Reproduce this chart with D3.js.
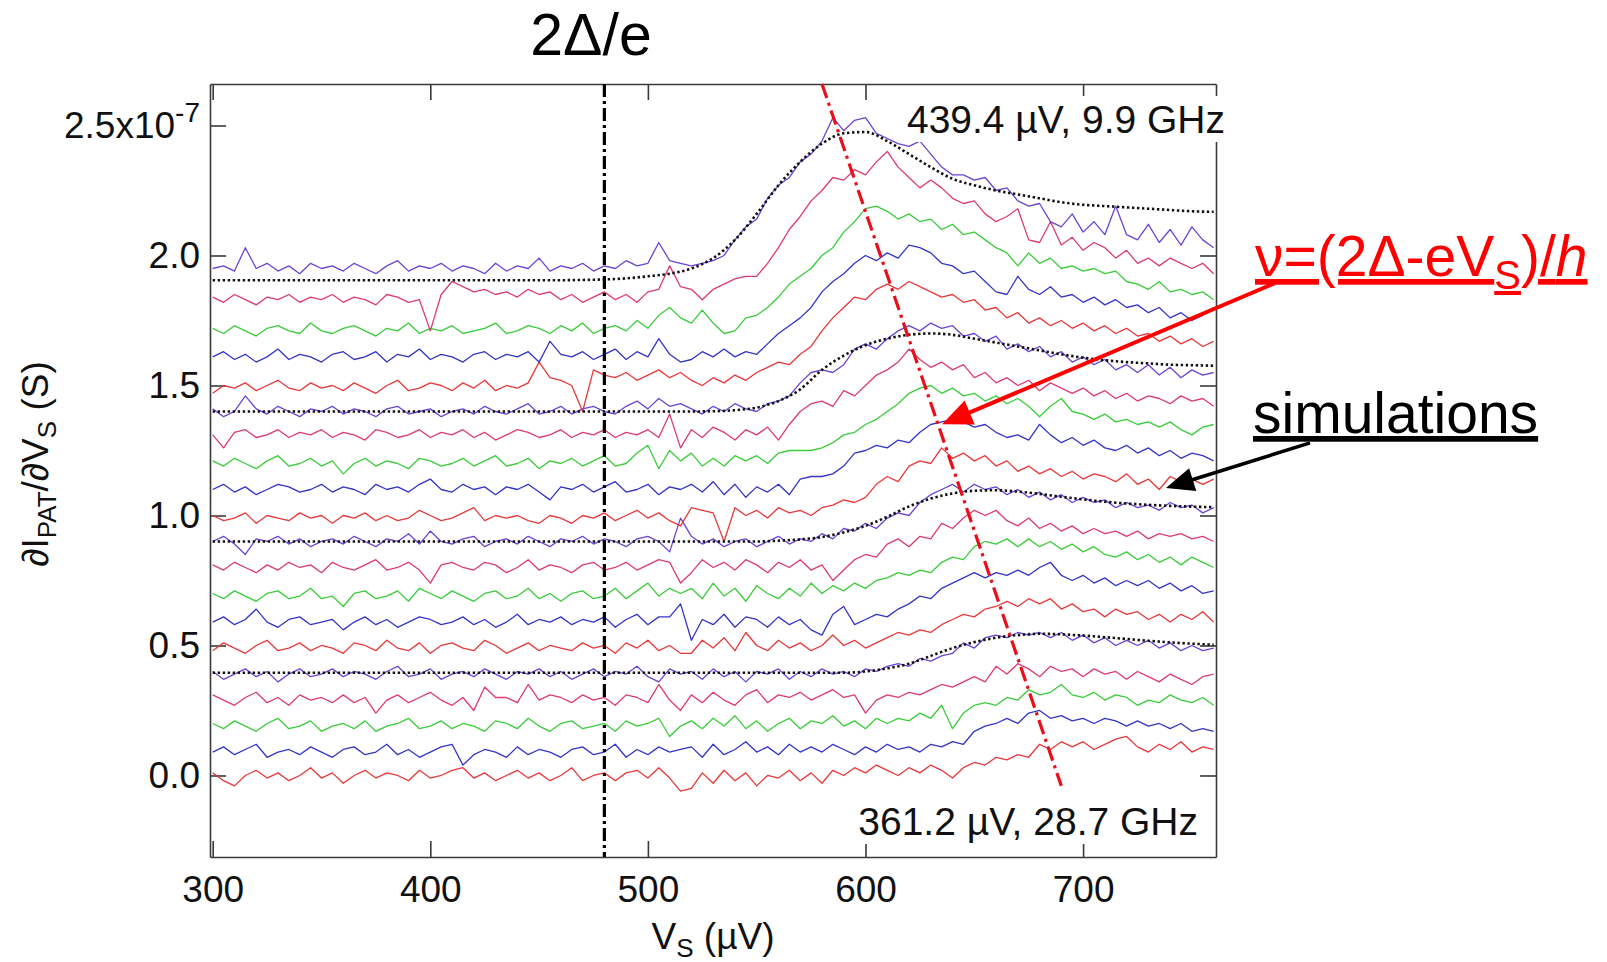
<!DOCTYPE html>
<html><head><meta charset="utf-8">
<script src="https://cdn.jsdelivr.net/npm/d3@7"></script>
<style>
body{margin:0;background:#fff;}
svg{display:block;}
text{font-family:"Liberation Sans",Arial,Helvetica,sans-serif;}
</style>
</head><body>
<svg id="c" width="1607" height="962"></svg>
<script>
// ---------------- DATA ----------------
// Source voltage grid (µV) for the measured traces
const vGrid = [300,305,310,315,320,325,330,335,340,345,350,355,360,365,370,375,380,385,390,395,400,405,410,415,420,425,430,435,440,445,450,455,460,465,470,475,480,485,490,495,500,505,510,515,520,525,530,535,540,545,550,555,560,565,570,575,580,585,590,595,600,605,610,615,620,625,630,635,640,645,650,655,660,665,670,675,680,685,690,695,700,705,710,715,720,725,730,735,740,745,750,755,760];
// Voltage grid (µV) for the simulated curves
const simGrid = [300,310,320,330,340,350,360,370,380,390,400,410,420,430,440,450,460,470,480,490,500,510,520,530,540,550,560,570,580,590,600,610,620,630,640,650,660,670,680,690,700,710,720,730,740,750,760];

// Vertical offsets of the 20 stacked traces (units of 1e-7 S), bottom to top
const traceOffsets = [0.00,0.09,0.19,0.29,0.39,0.49,0.59,0.69,0.80,0.90,0.99,1.10,1.20,1.31,1.40,1.49,1.61,1.71,1.83,1.94];

// Measured dI/dV of each trace relative to its offset (nS = 0.01 x 1e-7 S)
const trace00 = [1,-2,-4,0,2,-1,1,-2,0,3,-1, 1,-3,0,2,-1,1,0,-2,2,-1,0, 2,3,-1,1,-2,0,2,-1,1,-2,0, 3,-2,0,1,-2,1,2,-1,3,-1,-6, -5,1,-3,2,-2,1,-4,0,-1,2,-2,1,-3,2,0,3,1,4,2,0,3,1,4,2,-1,3,5,4,7,6,8,7,12,10,13,11,13,10,12,14,15,11,9,12,10,13,9,11,10];
const trace01 = [0,2,-1,1,3,-2,0,1,-1,2,0, -2,1,2,-1,0,3,-1,1,-2,0,2, 3,-5,-1,1,0,-2,2,-1,1,0,-2, 1,2,-1,0,3,-2,1,-1,2,0,1, 2,-2,3,-1,1,4,0,2,-1,3,0,2,0,3,1,-1,2,0,3,1,2,0,3,2,4,3,8,10,11,13,11,15,16,13,14,12,13,11,13,12,10,12,10,11,9,11,8,9,8];
const trace02 = [1,-1,2,0,-2,1,3,-1,0,2,-2, 0,1,-1,2,-2,0,1,3,-1,0,2, -1,1,0,-2,2,1,-1,3,0,-2,1, 2,-1,0,1,-2,2,0,1,3,-4,0, 2,-1,3,0,4,-1,2,-2,1,3,-1,2,1,4,0,2,-1,3,1,3,2,5,3,8,-1,5,8,9,8,11,10,14,12,13,16,12,11,13,10,12,11,8,10,9,12,10,9,11,8];
const trace03 = [2,0,-2,1,3,-1,1,-2,2,0,1, -1,2,-1,1,-5,0,2,-1,1,3,0, -2,1,-4,5,1,1,-1,6,0,2,1, -1,2,0,1,-2,2,1,-1,6,0,-4, 2,-1,3,0,-2,2,4,-1,2,1,3,0,2,4,1,2,-5,0,2,1,3,2,4,6,5,7,9,7,13,10,14,12,9,13,11,12,9,12,10,11,8,11,9,7,10,8,6,9,10];
const trace04 = [1,-2,0,2,-1,1,-3,0,2,-1,0, 2,-1,1,0,-2,1,3,-1,0,2,-2, 0,1,-1,2,0,-2,1,0,2,-1,1, -2,0,2,-1,1,0,3,-1,-3,2,0, 1,-2,2,-1,1,-3,1,0,2,-2,1,-1,2,0,1,-1,2,1,3,4,3,6,5,7,8,12,10,14,15,14,16,15,16,14,16,13,15,12,14,11,13,11,13,10,12,9,11,9,10];
const trace05 = [-1,2,0,-2,1,3,-1,0,2,-1,1, 0,-2,2,1,-1,3,0,-1,2,-2,1, 2,0,-1,3,1,-2,0,2,-1,1,0, -1,2,0,1,-2,2,0,3,-1,1,-2, -2,3,0,4,-1,6,1,-1,3,0,2,-1,1,5,1,3,0,2,4,6,5,7,6,9,11,13,12,15,16,18,16,19,17,19,15,17,14,15,12,15,13,14,11,13,10,13,11,14,10];
const trace06 = [0,2,-1,1,5,0,-2,1,2,-1,0, 1,-3,0,2,-1,1,-2,0,2,1,-1, 0,2,-1,1,-2,0,3,-1,1,0,2, -1,1,0,2,-2,1,3,-1,2,2,7, -7,1,-1,3,-2,2,1,-2,2,-1,1,-3,-5,3,6,-1,1,3,2,5,7,10,9,13,15,17,19,17,19,18,20,18,21,23,18,16,18,15,17,14,16,14,16,13,15,12,14,11,12];
const trace07 = [1,-1,2,0,-2,1,2,-1,0,3,-1, 0,-4,1,2,-1,0,2,-2,3,1,-1, 2,0,-2,1,2,-1,0,3,-1,1,-2, 1,2,-1,0,3,-1,2,5,0,3,1, 3,-1,5,0,3,-2,4,1,-1,3,0,5,1,4,2,5,3,6,7,9,8,10,9,13,15,14,19,21,20,22,19,22,19,21,18,20,17,19,16,15,17,14,16,13,15,12,15,13,11];
const trace08 = [1,-1,2,0,-2,1,-1,2,0,1,-2, 2,0,-1,1,3,-1,0,2,-1,-6,1, 2,0,-1,2,1,-2,0,3,-1,1,0, -2,1,2,-1,0,2,-1,1,3,2,-6, -2,3,0,2,-1,3,1,-2,2,0,3,-1,1,-5,-1,3,5,4,9,11,8,12,11,17,15,19,22,20,22,18,16,19,15,17,14,16,13,15,13,14,12,14,11,13,12,13,11,12,10];
const trace09 = [0,2,-1,-5,1,0,2,-1,1,-2,0, 1,-1,2,0,-2,1,0,3,-1,4,0, -1,1,2,-2,0,1,-1,2,0,-2,1, 0,2,-1,1,0,-2,1,2,0,-4,9, 2,-1,1,-2,0,1,-2,0,2,-1,1,0,3,1,5,4,7,5,9,11,10,15,18,20,22,19,22,20,21,18,20,17,19,16,18,15,17,15,16,13,15,13,14,12,15,13,14,11,13];
const trace10 = [1,-1,0,2,-2,1,0,-1,2,0,1, -2,1,0,2,-1,1,-1,0,3,1,-1, 0,2,4,-1,1,0,1,-1,-2,1,0, -2,1,0,2,-1,1,3,0,2,-1,-3, 4,3,2,-9,4,1,3,0,4,2,3,1,4,5,7,6,8,13,16,14,20,22,21,27,23,25,22,24,20,22,18,20,17,19,16,18,15,17,16,14,17,13,15,11,16,14,15,13,15];
const trace11 = [0,2,-1,1,-2,0,2,1,-1,0,2, -1,1,0,-2,2,0,1,-1,2,4,0, -1,2,0,1,-2,1,0,2,-1,-4,1, 0,2,-1,1,3,-1,0,2,-2,1,0, 2,-1,3,-2,2,-3,1,-1,2,-2,4,5,5,6,9,14,15,17,16,19,18,22,25,26,27,26,24,25,22,20,21,19,25,21,18,20,17,19,16,15,17,14,16,13,15,12,14,13,11];
const trace12 = [1,-1,2,0,-2,1,3,-1,0,2,-1, 1,-4,0,2,-1,1,0,-2,2,1,-1, 0,2,-1,1,3,-1,0,2,-2,1,0, 2,-1,1,3,-1,0,4,7,-2,5,1, 4,-1,2,-1,3,1,3,0,4,5,5,5,6,8,11,12,15,17,20,23,27,29,30,27,29,26,27,24,26,23,25,22,18,22,25,20,19,17,19,16,17,15,16,14,16,13,11,14,15];
const trace13 = [0,-5,1,2,-1,0,2,-1,1,0,2, -1,1,0,-2,2,1,-1,0,2,-1,1, 0,2,-1,1,-2,0,2,1,-1,0,2, -1,1,0,2,-1,1,0,2,-1,8,-5, 2,-1,3,1,-2,2,0,3,-2,4,9,12,13,11,17,15,19,23,25,28,33,29,26,28,25,27,22,24,20,22,19,21,17,20,18,16,18,15,17,14,16,13,15,14,12,15,13,14,11];
const trace14 = [1,-2,0,6,1,-1,2,0,-2,1,0, 2,-1,1,0,-2,1,2,-1,0,1,-2, 0,1,-1,2,0,-1,1,3,-1,0,2, -1,1,2,0,-1,2,4,1,5,2,3, 1,-1,2,0,3,1,0,3,4,6,11,15,16,15,18,24,26,24,28,31,33,31,34,32,33,29,30,27,29,24,26,23,25,21,23,19,21,18,20,16,18,15,18,14,17,13,16,14,15];
const trace15 = [-2,1,0,2,-1,1,3,0,-1,2,0, 1,-1,2,0,-2,1,3,-1,0,2,1, -1,2,0,3,-1,1,0,2,10,4,3, 1,-9,7,5,4,6,3,5,7,4,6, 3,1,4,2,5,3,6,8,10,9,13,16,22,27,31,35,34,38,40,38,41,39,37,35,36,33,34,30,31,27,29,25,27,24,26,23,25,22,24,21,23,20,21,18,20,17,19,16,18];
const trace16 = [0,2,-1,1,-2,0,3,-1,1,0,-2, 1,2,-1,0,2,-2,1,0,3,-1,1, 0,-2,1,2,-1,1,0,2,-2,6,1, 0,2,-1,1,3,-1,2,0,7,1,-2, -1,2,0,3,0,2,1,5,9,12,15,19,25,29,32,36,39,37,40,38,43,42,40,36,35,32,33,29,25,24,31,26,24,27,23,24,21,23,20,22,19,20,17,19,15,17,14,16,19];
const trace17 = [1,-1,2,0,-2,1,2,0,-1,3,0, -1,1,2,0,-2,1,0,3,-1,1,0, 2,-1,0,1,3,-1,0,2,1,-1,2, 0,3,-1,1,2,0,4,1,6,9,5, 3,8,3,-1,0,5,6,9,13,18,21,24,29,32,38,42,47,48,46,43,45,42,43,39,41,37,38,35,32,30,25,30,26,28,24,25,23,24,22,23,19,18,16,19,15,16,14,15,12];
const trace18 = [1,-1,2,0,-2,1,0,2,-1,1,0, 2,-1,1,0,-2,2,1,-1,0,-12,2, 7,5,3,4,2,3,1,4,2,3,0, 2,-1,1,3,0,2,-1,3,4,13,5, 4,0,4,6,8,9,9,14,20,27,32,38,42,47,46,50,48,53,57,51,47,43,46,43,39,37,38,33,30,32,35,23,22,30,21,24,19,22,20,16,19,14,16,13,16,14,12,14,10];
const trace19 = [1,2,0,9,1,3,0,2,-1,3,1, 2,0,3,1,-1,2,4,0,2,1,3, 0,2,1,-1,3,0,2,1,5,0,2, 1,3,0,2,1,4,2,3,11,4,3, 2,3,4,6,12,17,20,28,33,36,42,45,50,59,54,58,59,53,51,49,48,50,45,40,37,37,35,36,31,32,27,25,26,19,17,22,15,19,14,25,14,12,18,11,16,10,17,12,9];
const traces = [trace00,trace01,trace02,trace03,trace04,trace05,trace06,trace07,trace08,trace09,trace10,trace11,trace12,trace13,trace14,trace15,trace16,trace17,trace18,trace19];

// Simulated curves (absolute, units of 1e-7 S)
const sim04 = [0.395,0.395,0.395,0.395,0.395,0.395,0.395,0.395,0.395,0.395,0.395,0.395,0.395,0.395,0.395,0.395,0.395,0.395,0.395,0.395,0.395,0.395,0.395,0.395,0.395,0.395,0.395,0.395,0.395,0.395,0.40,0.412,0.43,0.46,0.49,0.513,0.53,0.54,0.545,0.543,0.538,0.532,0.525,0.518,0.512,0.507,0.503];
const sim09 = [0.90,0.90,0.90,0.90,0.90,0.90,0.90,0.90,0.90,0.90,0.90,0.90,0.90,0.90,0.90,0.90,0.90,0.90,0.90,0.90,0.90,0.90,0.90,0.90,0.90,0.90,0.903,0.908,0.917,0.935,0.96,0.995,1.035,1.065,1.085,1.095,1.097,1.092,1.083,1.072,1.062,1.053,1.046,1.041,1.037,1.034,1.032];
const sim14 = [1.40,1.40,1.40,1.40,1.40,1.40,1.40,1.40,1.40,1.40,1.40,1.40,1.40,1.40,1.40,1.40,1.40,1.40,1.40,1.40,1.40,1.40,1.40,1.401,1.405,1.415,1.44,1.485,1.56,1.615,1.655,1.68,1.695,1.70,1.695,1.68,1.665,1.65,1.635,1.62,1.607,1.597,1.59,1.585,1.58,1.578,1.576];
const sim19 = [1.905,1.905,1.905,1.905,1.905,1.905,1.905,1.905,1.905,1.905,1.905,1.905,1.905,1.905,1.905,1.905,1.905,1.906,1.908,1.912,1.92,1.93,1.95,1.99,2.06,2.16,2.27,2.36,2.43,2.47,2.475,2.44,2.39,2.34,2.295,2.27,2.25,2.235,2.22,2.205,2.195,2.19,2.185,2.18,2.175,2.17,2.168];
const sims = [sim04, sim09, sim14, sim19];

// Axis ticks
const xTicks = [300,400,500,600,700];
const xTickLabels = ["300","400","500","600","700"];
const yTicks = [0,0.5,1.0,1.5,2.0,2.5];
const yTickLabels = ["0.0","0.5","1.0","1.5","2.0","2.5x10"];

// Annotations (data coordinates)
const gapVoltage = 480;                         // 2Δ/e
const resonanceLine = [[580,2.66],[690,-0.04]]; // ν=(2Δ-eVs)/h
const redArrow = [[788.2,1.894],[635.2,1.351]];
const blackArrow = [[804.3,1.279],[738.1,1.106]];
const topLabel = "439.4 µV, 9.9 GHz";
const bottomLabel = "361.2 µV, 28.7 GHz";

// ---------------- CHECK ----------------
traces.forEach((t,i)=>{ if(t.length!==vGrid.length) throw new Error("trace"+i+" length "+t.length); });
sims.forEach((t,i)=>{ if(t.length!==simGrid.length) throw new Error("sim"+i+" length "+t.length); });

// ---------------- DRAW ----------------
const palette = ["#e8383a","#3434c8","#3acc3a","#dc3a72","#6c44d4"];
const svg = d3.select("#c");
const x = d3.scaleLinear().domain([298.76, 761.08]).range([210, 1216]);
const y = d3.scaleLinear().domain([-0.3135, 2.6596]).range([857, 84]);
const FS = 37;
const axisColor = "#3a3a3a";

function styleAxis(g){
  g.select(".domain").attr("stroke",axisColor).attr("stroke-width",1.6);
  g.selectAll(".tick line").attr("stroke",axisColor).attr("stroke-width",1.6);
  g.selectAll(".tick text").attr("font-size",FS).attr("font-family","'Liberation Sans',Arial,sans-serif").attr("fill","#111");
}
const gB = svg.append("g").attr("transform","translate(0,857)")
  .call(d3.axisBottom(x).tickValues(xTicks).tickSize(-16).tickSizeOuter(0).tickPadding(19).tickFormat((d,i)=>xTickLabels[i]));
styleAxis(gB);
const gT = svg.append("g").attr("transform","translate(0,84)")
  .call(d3.axisTop(x).tickValues(xTicks).tickSize(-16).tickSizeOuter(0).tickFormat(""));
styleAxis(gT);
const gL = svg.append("g").attr("transform","translate(210,0)")
  .call(d3.axisLeft(y).tickValues(yTicks).tickSize(-16).tickSizeOuter(0).tickPadding(10).tickFormat((d,i)=>yTickLabels[i]));
styleAxis(gL);
gL.selectAll(".tick text").filter(d=>d===2.5).append("tspan").attr("font-size",28).attr("dy",-16).text("-7");
const gR = svg.append("g").attr("transform","translate(1216,0)")
  .call(d3.axisRight(y).tickValues(yTicks).tickSize(-16).tickSizeOuter(0).tickFormat(""));
styleAxis(gR);

// traces
traces.forEach((t,i)=>{
  const off = traceOffsets[i];
  const line = d3.line().x((d,k)=>x(vGrid[k])).y(d=>y(off + d/100));
  svg.append("path").datum(t).attr("d",line).attr("fill","none")
    .attr("stroke",palette[i%5]).attr("stroke-width",1.3).attr("stroke-linejoin","round");
});

// simulations
const simLine = d3.line().x((d,k)=>x(simGrid[k])).y(d=>y(d)).curve(d3.curveMonotoneX);
sims.forEach(s=>{
  svg.append("path").datum(s).attr("d",simLine).attr("fill","none")
    .attr("stroke","#111").attr("stroke-width",2.6).attr("stroke-dasharray","2.4,2.6");
});

// 2Δ/e vertical dash-dot line
svg.append("line").attr("x1",x(gapVoltage)).attr("x2",x(gapVoltage))
  .attr("y1",y(y.domain()[1])).attr("y2",y(y.domain()[0]))
  .attr("stroke","#000").attr("stroke-width",3.2).attr("stroke-dasharray","13,4,3,4");

// red resonance dash-dot line
svg.append("line").attr("x1",x(resonanceLine[0][0])).attr("y1",y(resonanceLine[0][1]))
  .attr("x2",x(resonanceLine[1][0])).attr("y2",y(resonanceLine[1][1]))
  .attr("stroke","#e8101a").attr("stroke-width",3.2).attr("stroke-dasharray","15,5,3,5");

// labels inside plot with white box
function boxedLabel(txt, xr, yb){
  const g = svg.append("g");
  const t = g.append("text").attr("x",xr).attr("y",yb).attr("text-anchor","end")
    .attr("font-size",39).attr("fill","#111").text(txt);
  const bb = t.node().getBBox();
  g.insert("rect","text").attr("x",bb.x-3).attr("y",bb.y-2).attr("width",bb.width+6).attr("height",bb.height+3).attr("fill","#fff");
}
boxedLabel(topLabel, 1225, 133);
boxedLabel(bottomLabel, 1198, 835);

// 2Δ/e label
svg.append("text").attr("x",591).attr("y",55).attr("text-anchor","middle")
  .attr("font-family","'DejaVu Sans',Verdana,sans-serif").attr("font-size",59).attr("fill","#000").text("2Δ/e");

// axis titles
const xt = svg.append("text").attr("x",713).attr("y",949).attr("text-anchor","middle").attr("font-size",FS).attr("fill","#111");
xt.append("tspan").text("V");
xt.append("tspan").attr("font-size",26).attr("dy",8).text("S");
xt.append("tspan").attr("dy",-8).text(" (µV)");

const yt = svg.append("text").attr("transform","translate(48,464) rotate(-90)").attr("text-anchor","middle")
  .attr("font-size",37).attr("fill","#111");
yt.append("tspan").text("∂I");
yt.append("tspan").attr("font-size",26).attr("dy",8).text("PAT");
yt.append("tspan").attr("dy",-8).text("/∂V");
yt.append("tspan").attr("font-size",26).attr("dy",8).text("S");
yt.append("tspan").attr("dy",-8).text(" (S)");

// arrows
function arrow(a, color, w, headLen, headHalf){
  const x0=x(a[0][0]), y0=y(a[0][1]), x1=x(a[1][0]), y1=y(a[1][1]);
  const dx=x1-x0, dy=y1-y0, L=Math.hypot(dx,dy), ux=dx/L, uy=dy/L;
  const bx=x1-ux*headLen, by=y1-uy*headLen;
  svg.append("line").attr("x1",x0).attr("y1",y0).attr("x2",bx+ux*3).attr("y2",by+uy*3)
    .attr("stroke",color).attr("stroke-width",w);
  svg.append("path").attr("d",`M${x1},${y1}L${bx-uy*headHalf},${by+ux*headHalf}L${bx+uy*headHalf},${by-ux*headHalf}Z`).attr("fill",color);
}
arrow(redArrow, "#ff0000", 4, 30, 13);
arrow(blackArrow, "#000", 3.5, 28, 12);

// formula annotation
const ft = svg.append("text").attr("x",1255).attr("y",276).attr("font-size",57).attr("fill","#ff0000")
  .attr("text-decoration","underline");
ft.append("tspan").text("ν=(2Δ-eV");
ft.append("tspan").attr("font-size",40).attr("dy",13).text("S");
ft.append("tspan").attr("dy",-13).text(")/");
ft.append("tspan").attr("font-style","italic").text("h");

// simulations annotation
svg.append("text").attr("x",1253).attr("y",433).attr("font-size",57).attr("fill","#000")
  .attr("text-decoration","underline").text("simulations");
</script>
</body></html>
